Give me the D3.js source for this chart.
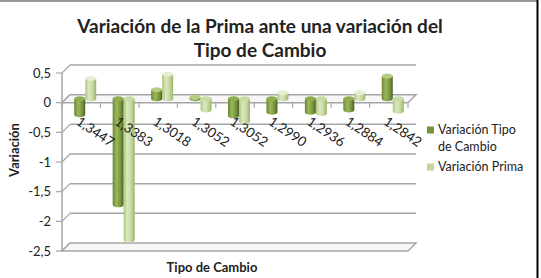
<!DOCTYPE html>
<html>
<head>
<meta charset="utf-8">
<script src="https://cdn.jsdelivr.net/npm/d3@7"></script>
<style>
  body { margin: 0; background: #fff; }
  svg { display: block; font-family: Lato, "Liberation Sans", sans-serif; }
</style>
</head>
<body>
<svg id="chart" width="541" height="278"></svg>
<script>
// Chart data
const categories = ["1,3447", "1,3383", "1,3018", "1,3052", "1,3052", "1,2990", "1,2936", "1,2884", "1,2842"];
const seriesNames = ["Variación Tipo de Cambio", "Variación Prima"];
const tipoCambio = [-0.27, -1.79, 0.15, 0.02, -0.29, -0.23, -0.23, -0.19, 0.38];
const prima = [0.34, -2.38, 0.41, -0.19, -0.38, 0.10, -0.25, 0.10, -0.21];
const yTicks = [0.5, 0, -0.5, -1, -1.5, -2, -2.5];

const width = 541, height = 278;
// depth of the 3D box
const depthX = 8, depthY = -8;

const svg = d3.select("#chart");

// Border (top + right)
svg.append("line").attr("x1", 0).attr("x2", 538).attr("y1", 1).attr("y2", 1)
    .attr("stroke", "#777").attr("stroke-width", 1.5);
svg.append("line").attr("x1", 537.5).attr("x2", 537.5).attr("y1", 0).attr("y2", 278)
    .attr("stroke", "#000").attr("stroke-width", 2);

// Scales (front plane)
const y = d3.scaleLinear().domain([-2.5, 0.5]).range([251, 73]);
const x = d3.scaleBand().domain(d3.range(categories.length)).range([62, 408]);
const xs = d3.scaleBand().domain([0, 1]).range([0, 22]);

const fmt = d => String(d).replace(".", ",");

// Gradients for cylinders
const defs = svg.append("defs");
function grad(id, stops) {
    const g = defs.append("linearGradient").attr("id", id)
        .attr("x1", "0%").attr("x2", "100%").attr("y1", "0%").attr("y2", "0%");
    stops.forEach(s => g.append("stop").attr("offset", s[0]).attr("stop-color", s[1]));
}
grad("darkBody", [["0%", "#6b8534"], ["35%", "#9ab85a"], ["70%", "#7a983e"], ["100%", "#4f6326"]]);
grad("lightBody", [["0%", "#aec77c"], ["35%", "#dce8c4"], ["70%", "#c3d69b"], ["100%", "#9bb266"]]);
const capColors = [["#8fac4e", "#b5cc82"], ["#c9dba5", "#e4eed3"]];
const bodyFills = ["url(#darkBody)", "url(#lightBody)"];

const gridColor = "#a6a6a6";
const grid = svg.append("g");

// Back wall gridlines and side wall diagonals
yTicks.forEach(t => {
    if (t !== -2.5) {
        grid.append("line")
            .attr("x1", x.range()[0] + depthX).attr("x2", x.range()[1] + depthX)
            .attr("y1", y(t) + depthY).attr("y2", y(t) + depthY)
            .attr("stroke", gridColor).attr("stroke-width", 1.5);
    }
    grid.append("line")
        .attr("x1", x.range()[0]).attr("x2", x.range()[0] + depthX)
        .attr("y1", y(t)).attr("y2", y(t) + depthY)
        .attr("stroke", gridColor).attr("stroke-width", 1.2);
    // tick
    grid.append("line")
        .attr("x1", x.range()[0] - 6).attr("x2", x.range()[0])
        .attr("y1", y(t)).attr("y2", y(t))
        .attr("stroke", gridColor).attr("stroke-width", 1.2);
});

// vertical axis line
grid.append("line")
    .attr("x1", x.range()[0]).attr("x2", x.range()[0])
    .attr("y1", y(0.5)).attr("y2", y(-2.5))
    .attr("stroke", gridColor).attr("stroke-width", 1.5);

// Planes: floor at -2.5 and category plane at 0
function plane(v) {
    const x0 = x.range()[0], x1 = x.range()[1], yy = y(v);
    grid.append("path")
        .attr("d", `M${x0},${yy}L${x1},${yy}L${x1 + depthX},${yy + depthY}L${x0 + depthX},${yy + depthY}Z`)
        .attr("fill", "#f7f7f7").attr("stroke", gridColor).attr("stroke-width", 1.5);
}
plane(-2.5);
plane(0);

// category ticks on the zero line
d3.range(categories.length + 1).forEach(i => {
    const xx = i < categories.length ? x(i) : x.range()[1];
    grid.append("line")
        .attr("x1", xx).attr("x2", xx)
        .attr("y1", y(0)).attr("y2", y(0) + 5)
        .attr("stroke", gridColor).attr("stroke-width", 1.2);
});

// Cylinders
const series = [tipoCambio, prima];
const barW = xs.bandwidth();
const ry = 2.5;
const bars = svg.append("g");
categories.forEach((c, i) => {
    series.forEach((vals, s) => {
        const v = vals[i];
        const bx = x(i) + (x.bandwidth() - 22) / 2 + xs(s) + depthX / 2;
        const y0 = y(0) + depthY / 2;
        const y1 = y(v) + depthY / 2;
        const top = Math.min(y0, y1), bot = Math.max(y0, y1);
        const g = bars.append("g");
        g.append("path")
            .attr("d", `M${bx},${top}L${bx},${bot}A${barW / 2},${ry} 0 0 0 ${bx + barW},${bot}L${bx + barW},${top}Z`)
            .attr("fill", bodyFills[s]);
        g.append("ellipse")
            .attr("cx", bx + barW / 2).attr("cy", top)
            .attr("rx", barW / 2).attr("ry", ry)
            .attr("fill", v >= 0 ? capColors[s][1] : capColors[s][0]);
    });
});

// Y tick labels
svg.append("g").selectAll("text").data(yTicks).join("text")
    .attr("x", 51).attr("y", d => y(d))
    .attr("dy", "0.35em")
    .attr("text-anchor", "end")
    .attr("font-size", 13)
    .attr("fill", "#222")
    .text(fmt);

// Category labels (rotated)
svg.append("g").selectAll("text").data(categories).join("text")
    .attr("transform", (d, i) => `translate(${x(i) + x.bandwidth() / 2 - 6},${y(0) + 21}) rotate(34)`)
    .attr("font-size", 13.5)
    .attr("fill", "#222")
    .text(d => d);

// Title
svg.append("text").attr("x", 260).attr("y", 33)
    .attr("text-anchor", "middle").attr("font-size", 19).attr("font-weight", "bold")
    .attr("fill", "#222")
    .text("Variación de la Prima ante una variación del");
svg.append("text").attr("x", 260).attr("y", 57)
    .attr("text-anchor", "middle").attr("font-size", 19).attr("font-weight", "bold")
    .attr("fill", "#222")
    .text("Tipo de Cambio");

// Axis titles
svg.append("text")
    .attr("transform", "translate(19,150) rotate(-90)")
    .attr("text-anchor", "middle").attr("font-size", 13).attr("font-weight", "bold")
    .attr("fill", "#222")
    .text("Variación");
svg.append("text").attr("x", 212).attr("y", 272)
    .attr("text-anchor", "middle").attr("font-size", 13).attr("font-weight", "bold")
    .attr("fill", "#222")
    .text("Tipo de Cambio");

// Legend
const legendColors = ["#77933c", "#c3d69b"];
const legendLines = [["Variación Tipo", "de Cambio"], ["Variación Prima"]];
const legendY = [130, 167];
const legend = svg.append("g");
seriesNames.forEach((name, s) => {
    legend.append("rect")
        .attr("x", 427).attr("y", legendY[s] - 3.5)
        .attr("width", 7).attr("height", 7)
        .attr("fill", legendColors[s]);
    legendLines[s].forEach((line, k) => {
        legend.append("text")
            .attr("x", 438).attr("y", legendY[s] + k * 17)
            .attr("dy", "0.35em")
            .attr("font-size", 12.5)
            .attr("fill", "#222")
            .text(line);
    });
});
</script>
</body>
</html>
